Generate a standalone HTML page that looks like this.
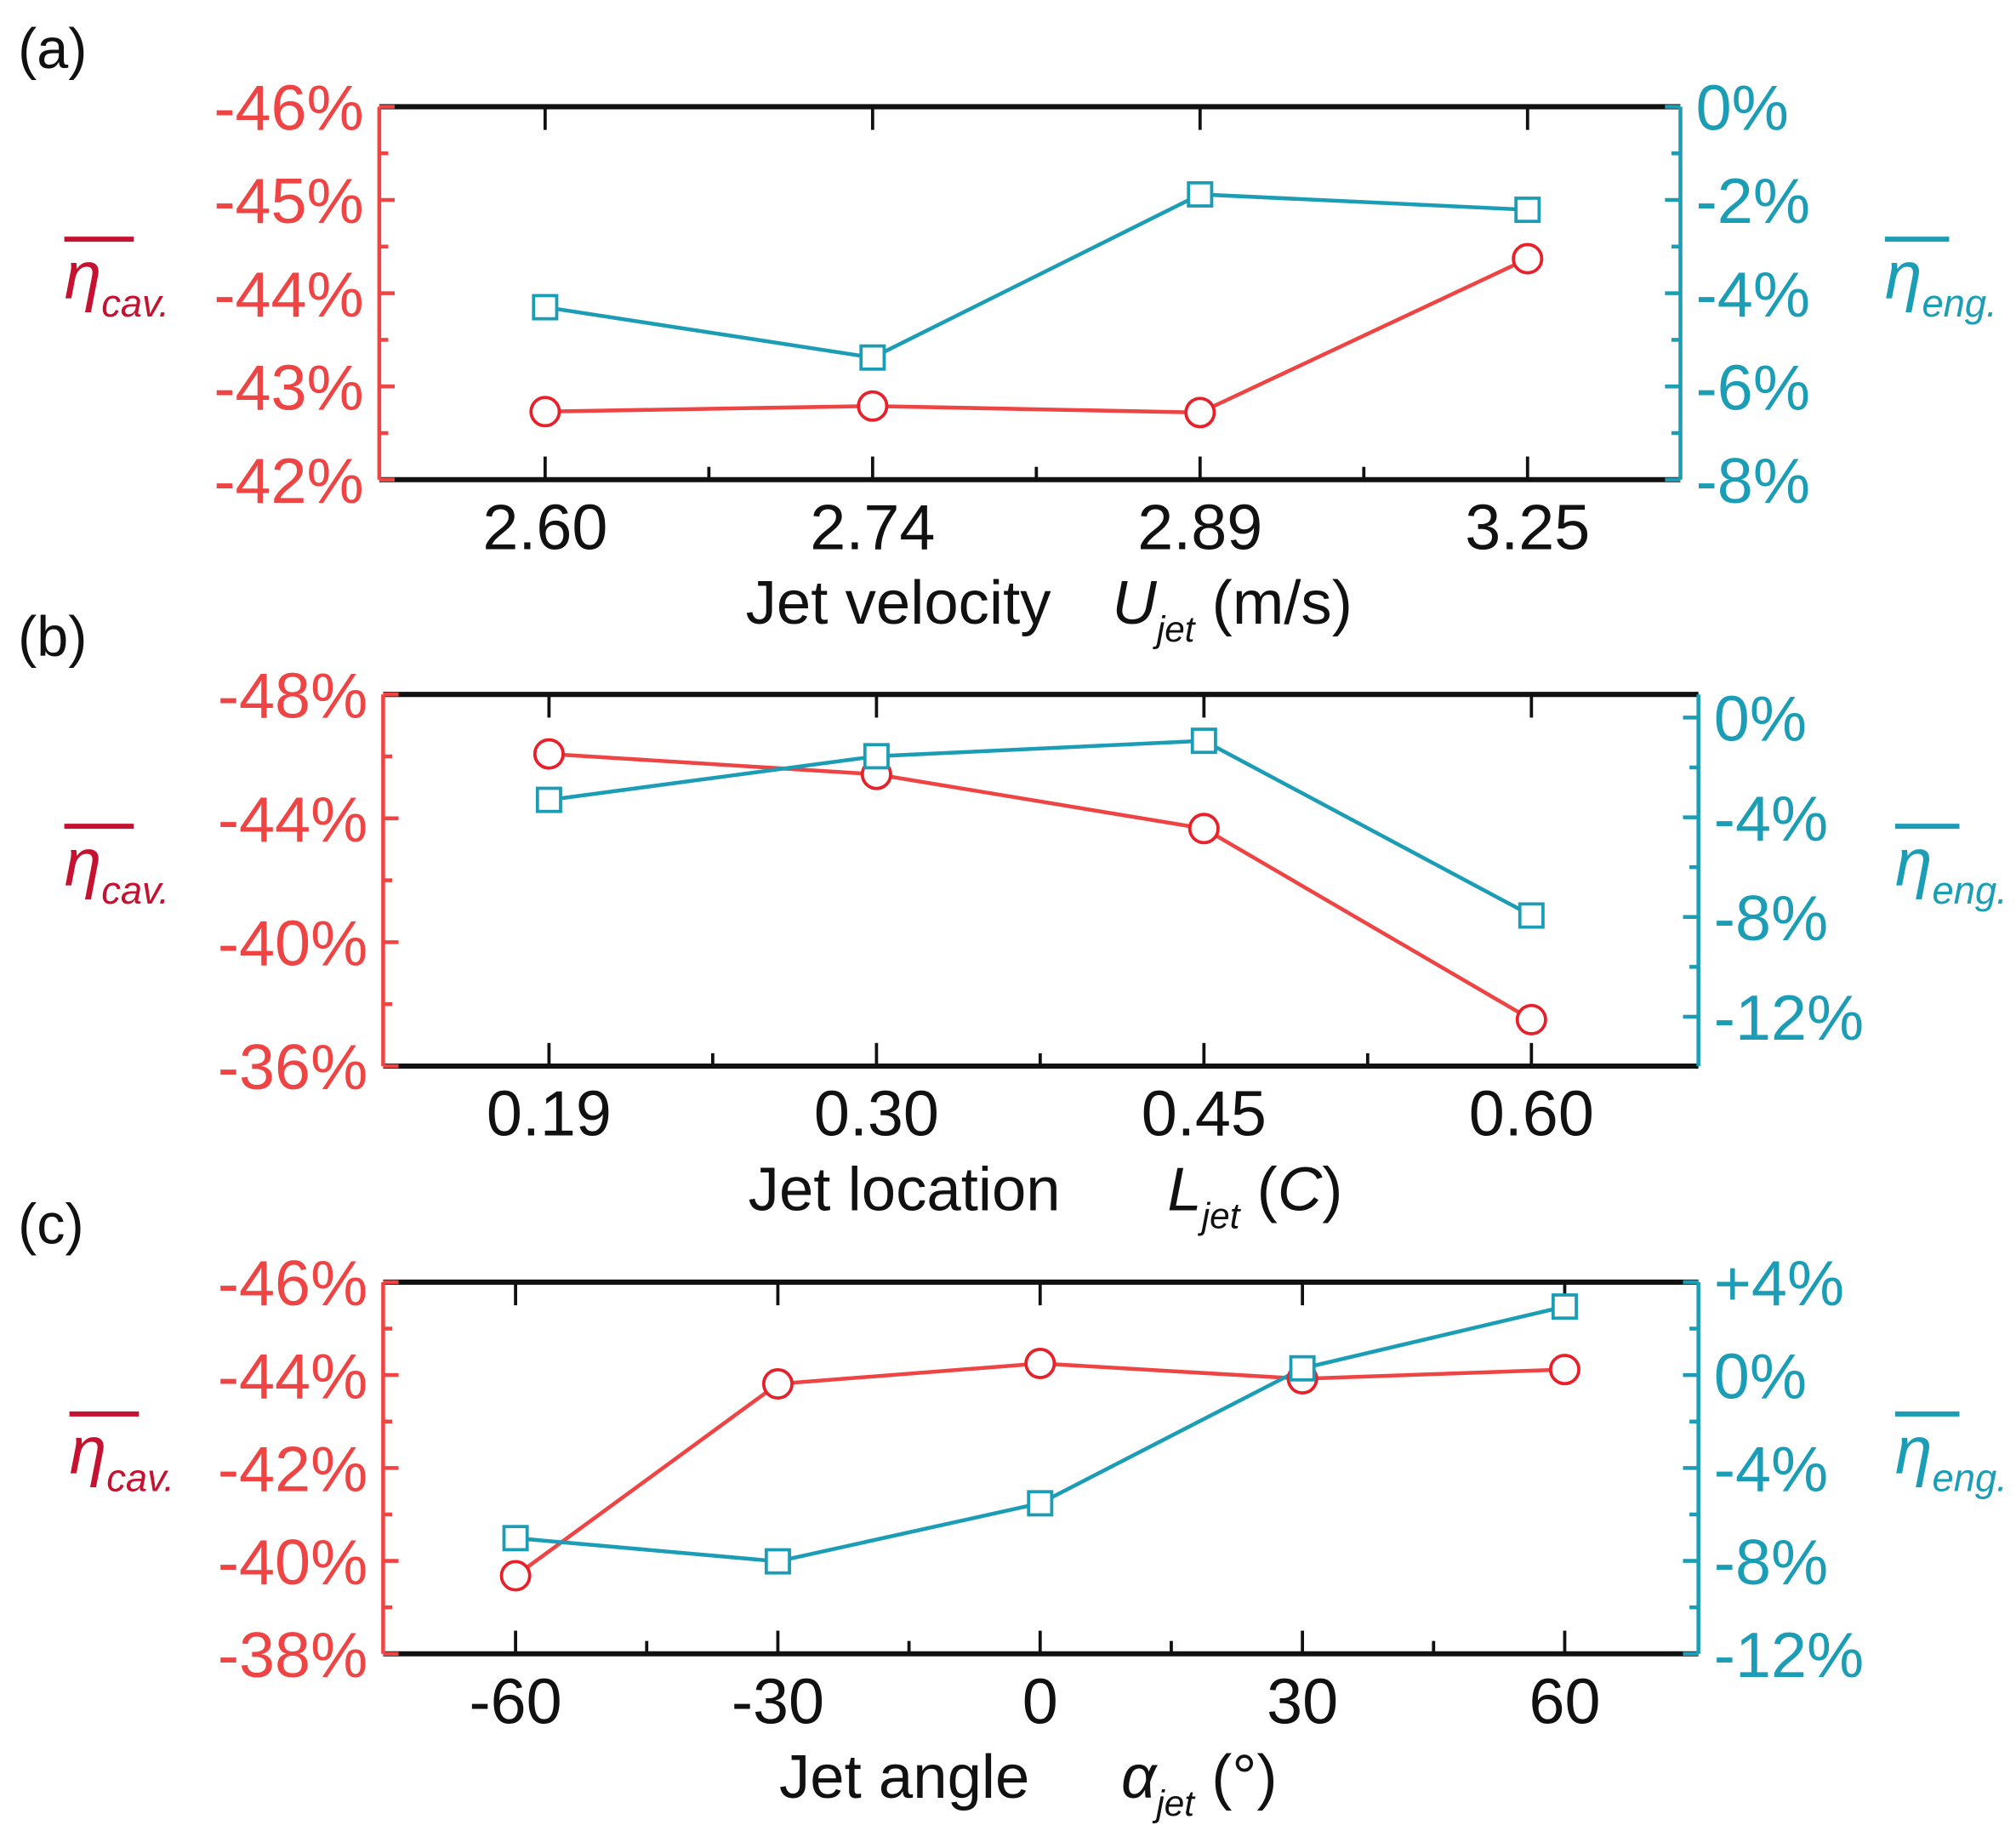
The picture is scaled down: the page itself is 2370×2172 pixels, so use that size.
<!DOCTYPE html>
<html><head><meta charset="utf-8"><style>
html,body{margin:0;padding:0;background:#fff;}
svg{display:block;font-family:"Liberation Sans",Arial,sans-serif;}
</style></head><body>
<svg id="fig" width="2370" height="2172" viewBox="0 0 1568 1437" xmlns="http://www.w3.org/2000/svg"></svg>
<script>
const catsA = ["2.60","2.74","2.89","3.25"];
const cavA = [-42.73,-42.79,-42.72,-44.37];
const engA = [-4.30,-5.38,-1.88,-2.21];
const leftTicksA = [-46,-45,-44,-43,-42];
const rightTicksA = [0,-2,-4,-6,-8];

const catsB = ["0.19","0.30","0.45","0.60"];
const cavB = [-46.08,-45.42,-43.67,-37.5];
const engB = [-3.3,-1.55,-0.93,-7.94];
const leftTicksB = [-48,-44,-40,-36];
const rightTicksB = [0,-4,-8,-12];

const catsC = ["-60","-30","0","30","60"];
const cavC = [-39.68,-43.81,-44.25,-43.92,-44.12];
const engC = [-7.02,-8.02,-5.52,0.29,2.95];
const leftTicksC = [-46,-44,-42,-40,-38];
const rightTicksC = [4,0,-4,-8,-12];
const rightLabelsC = ["+4%","0%","-4%","-8%","-12%"];

const RED="#ef4444", TEAL="#1b9db5", DRED="#c41230";
const svg=document.getElementById('fig');
const NS="http://www.w3.org/2000/svg";
function el(tag,attrs,parent){const e=document.createElementNS(NS,tag);for(const k in attrs)e.setAttribute(k,attrs[k]);(parent||svg).appendChild(e);return e;}

function panel(p){
  const g=el('g',{});
  
  
  const yL=v=>p.top+(v-p.lTop)/(p.lBot-p.lTop)*(p.bot-p.top);
  const yR=v=>p.rTopPx+(v-p.rTop)/(p.rBot-p.rTop)*(p.rBotPx-p.rTopPx);
  const x=i=>p.x0+i*p.dx;
  const pl=el('text',{x:14,y:p.top-30,'font-size':44,fill:'#111'},g);pl.textContent='('+p.id+')';
  
  
  el('line',{x1:p.left,y1:p.top,x2:p.right,y2:p.top,stroke:'#111','stroke-width':4},g);
  el('line',{x1:p.left,y1:p.bot,x2:p.right,y2:p.bot,stroke:'#111','stroke-width':4},g);
  const la=el('line',{x1:p.left,y1:p.top,x2:p.left,y2:p.bot,stroke:RED,'stroke-width':3},g);
  
  
  const ra=el('line',{x1:p.right,y1:p.top,x2:p.right,y2:p.bot,stroke:TEAL,'stroke-width':3},g);
  
  
  for(let i=0;i<p.cats.length;i++){
    el('line',{x1:x(i),y1:p.top,x2:x(i),y2:p.top+18,stroke:'#111','stroke-width':2.5},g);
    el('line',{x1:x(i),y1:p.bot,x2:x(i),y2:p.bot-18,stroke:'#111','stroke-width':2.5},g);
    if(i<p.cats.length-1) el('line',{x1:x(i)+p.dx/2,y1:p.bot,x2:x(i)+p.dx/2,y2:p.bot-10,stroke:'#111','stroke-width':2.5},g);
    const t=el('text',{x:x(i),y:p.bot+54,'font-size':50,'text-anchor':'middle',fill:'#111'},g);t.textContent=p.cats[i];
    
    
  }
  p.lt.forEach((v,i)=>{
    el('line',{x1:p.left,y1:yL(v),x2:p.left+12,y2:yL(v),stroke:RED,'stroke-width':3},g);
    if(i<p.lt.length-1){const m=(v+p.lt[i+1])/2;el('line',{x1:p.left,y1:yL(m),x2:p.left+7,y2:yL(m),stroke:RED,'stroke-width':3},g);}
    const t=el('text',{x:p.left-12,y:yL(v)+18,'font-size':50,'text-anchor':'end',fill:RED},g);t.textContent=v+'%';
    
    
  });
  p.rt.forEach((v,i)=>{
    el('line',{x1:p.right,y1:yR(v),x2:p.right-12,y2:yR(v),stroke:TEAL,'stroke-width':3},g);
    if(i<p.rt.length-1){const m=(v+p.rt[i+1])/2;el('line',{x1:p.right,y1:yR(m),x2:p.right-7,y2:yR(m),stroke:TEAL,'stroke-width':3},g);}
    const t=el('text',{x:p.right+12,y:yR(v)+18,'font-size':50,fill:TEAL},g);t.textContent=p.rl?p.rl[i]:v+'%';
    
    
  });
  const mid=(p.top+p.bot)/2;
  el('line',{x1:50+p.lo,y1:mid-42,x2:104+p.lo,y2:mid-42,stroke:DRED,'stroke-width':4},g);
  const lt=el('text',{x:50+p.lo,y:mid+4,'font-size':52,'font-style':'italic',fill:DRED},g);
  lt.innerHTML='η<tspan font-size="30" dy="14">cav.</tspan>';
  
  
  el('line',{x1:1466+p.ro,y1:mid-42,x2:1516+p.ro,y2:mid-42,stroke:TEAL,'stroke-width':4},g);
  const rt=el('text',{x:1466+p.ro,y:mid+4,'font-size':52,'font-style':'italic',fill:TEAL},g);
  rt.innerHTML='η<tspan font-size="30" dy="14">eng.</tspan>';
  
  
  const xt=el('text',{x:p.xtx,y:p.bot+112,'font-size':48,fill:'#111'},g);
  xt.innerHTML=p.xt;
  
  
  const cp=p.cav.map((v,i)=>x(i)+','+yL(v)).join(' ');
  const ep=p.eng.map((v,i)=>x(i)+','+yR(v)).join(' ');
  const l1=el('polyline',{points:cp,fill:'none',stroke:RED,'stroke-width':3},g);
  
  
  const l2=el('polyline',{points:ep,fill:'none',stroke:TEAL,'stroke-width':3},g);
  
  
  p.cav.forEach((v,i)=>{const c=el('circle',{cx:x(i),cy:yL(v),r:11,fill:'#fff',stroke:'#e8202a','stroke-width':2.5},g);
    
    });
  p.eng.forEach((v,i)=>{const r=el('rect',{x:x(i)-9,y:yR(v)-9,width:18,height:18,fill:'#fff',stroke:TEAL,'stroke-width':2.5},g);
    
    });
}

panel({id:'a',left:295,right:1307,top:83,bot:373,lTop:-46,lBot:-42,rTop:0,rBot:-8,rTopPx:83,rBotPx:373,
  x0:424,dx:254.7,cats:catsA,cav:cavA,eng:engA,lt:leftTicksA,rt:rightTicksA,lo:0,ro:0,xtx:580,
  xt:'Jet velocity<tspan x="865" font-style="italic">U</tspan><tspan font-style="italic" font-size="28" dy="14">jet</tspan><tspan dy="-14"> (m/s)</tspan>'});
panel({id:'b',left:298,right:1321,top:540,bot:829,lTop:-48,lBot:-36,rTop:0,rBot:-12,rTopPx:558,rBotPx:790.6,
  x0:427,dx:254.7,cats:catsB,cav:cavB,eng:engB,lt:leftTicksB,rt:rightTicksB,lo:0,ro:8,xtx:582,
  xt:'Jet location<tspan x="908" font-style="italic">L</tspan><tspan font-style="italic" font-size="28" dy="14">jet</tspan><tspan dy="-14"> (</tspan><tspan font-style="italic">C</tspan>)'});
panel({id:'c',left:298,right:1321,top:997,bot:1286,lTop:-46,lBot:-38,rTop:4,rBot:-12,rTopPx:997,rBotPx:1286,
  x0:401,dx:204,cats:catsC,cav:cavC,eng:engC,lt:leftTicksC,rt:rightTicksC,rl:rightLabelsC,lo:4,ro:8,xtx:606,
  xt:'Jet angle<tspan x="872" font-style="italic">α</tspan><tspan font-style="italic" font-size="28" dy="14">jet</tspan><tspan dy="-14"> (°)</tspan>'});
</script>
</body></html>
